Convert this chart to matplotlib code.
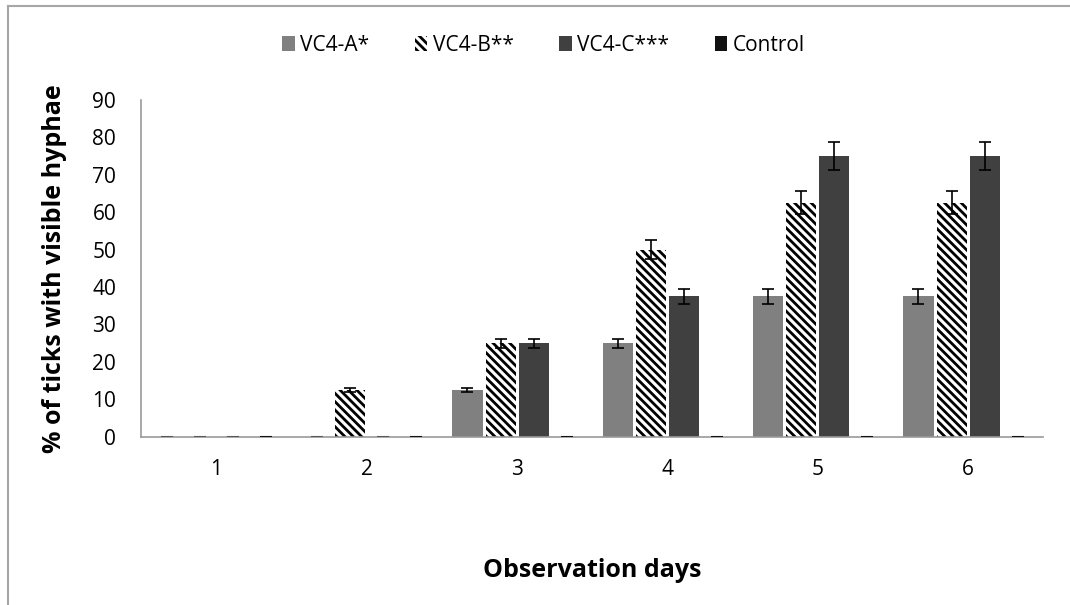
import matplotlib
matplotlib.use("Agg")
import matplotlib.pyplot as plt
from matplotlib.patches import Patch
import numpy as np

# data
days = ["1", "2", "3", "4", "5", "6"]
vc4_a = [0, 0, 12.5, 25, 37.5, 37.5]
vc4_b = [0, 12.5, 25, 50, 62.5, 62.5]
vc4_c = [0, 0, 25, 37.5, 75, 75]
control = [0, 0, 0, 0, 0, 0]
err_a = [0, 0, 0.6, 1.25, 1.9, 1.9]
err_b = [0, 0.6, 1.25, 2.5, 3.1, 3.1]
err_c = [0, 0, 1.25, 1.9, 3.75, 3.75]
err_ctrl = [0, 0, 0, 0, 0, 0]

names = ["VC4-A*", "VC4-B**", "VC4-C***", "Control"]
series = [vc4_a, vc4_b, vc4_c, control]
errs = [err_a, err_b, err_c, err_ctrl]
colors = ["#808080", "white", "#404040", "#111111"]
hatches = [None, "\\\\\\\\", None, None]

plt.rcParams["font.family"] = ["Open Sans", "DejaVu Sans"]
plt.rcParams["hatch.linewidth"] = 2.0

fig = plt.figure(figsize=(10.7, 6.05), dpi=100)
ax = fig.add_axes([0.132, 0.278, 0.843, 0.557])

x = np.arange(len(days))
step = 0.22
w = 0.2
for i, (vals, e) in enumerate(zip(series, errs)):
    pos = x + (i - 1.5) * step
    vals = np.array(vals)
    if hatches[i]:
        ax.bar(pos, vals, w, color="white", edgecolor="black", linewidth=0, hatch=hatches[i])
    else:
        ax.bar(pos, vals, w, color=colors[i], linewidth=0)
    nz = vals > 0
    ax.errorbar(pos[nz], vals[nz], yerr=np.array(e)[nz], fmt="none", ecolor="black",
                elinewidth=1.2, capsize=4.3, capthick=1.2)
    # excel draws zero-height bars as a short dash
    z = ~nz
    dash_col = "#111111" if i == 3 else "#595959"
    ax.hlines(np.zeros(z.sum()), pos[z] - 0.04, pos[z] + 0.04, color=dash_col, linewidth=1.5, zorder=3)

ax.set_xlim(-0.5, len(days) - 0.5)
ax.set_ylim(0, 90)
ax.set_yticks(np.arange(0, 91, 10))
ax.set_xticks(x)
ax.set_xticklabels(days)
ax.tick_params(axis="both", length=0, labelsize=15, colors="black")
ax.tick_params(axis="x", pad=16)
ax.tick_params(axis="y", pad=18)
for s in ["top", "right"]:
    ax.spines[s].set_visible(False)
for s in ["left", "bottom"]:
    ax.spines[s].set_color("#999999")
    ax.spines[s].set_linewidth(1.2)

ax.set_ylabel("% of ticks with visible hyphae", fontsize=18, fontweight="bold", labelpad=18)
ax.set_xlabel("Observation days", fontsize=18, fontweight="bold", labelpad=56)

handles = [Patch(facecolor=colors[i], edgecolor="black" if hatches[i] else colors[i], linewidth=0,
                 hatch=hatches[i]) for i in range(4)]
fig.legend(handles, names, loc="center", bbox_to_anchor=(0.508, 0.925), ncol=4, frameon=False,
           fontsize=15, handlelength=0.6, handleheight=0.75, handletextpad=0.25, columnspacing=2.2)

# outer chart border (left and top visible)
fig.add_artist(plt.Line2D([8 / 1070, 8 / 1070], [0, 1 - 6 / 605], transform=fig.transFigure,
                          color="#a6a6a6", linewidth=1.5))
fig.add_artist(plt.Line2D([8 / 1070, 1], [1 - 6 / 605, 1 - 6 / 605], transform=fig.transFigure,
                          color="#a6a6a6", linewidth=1.5))

fig.savefig("out.png", dpi=100)
